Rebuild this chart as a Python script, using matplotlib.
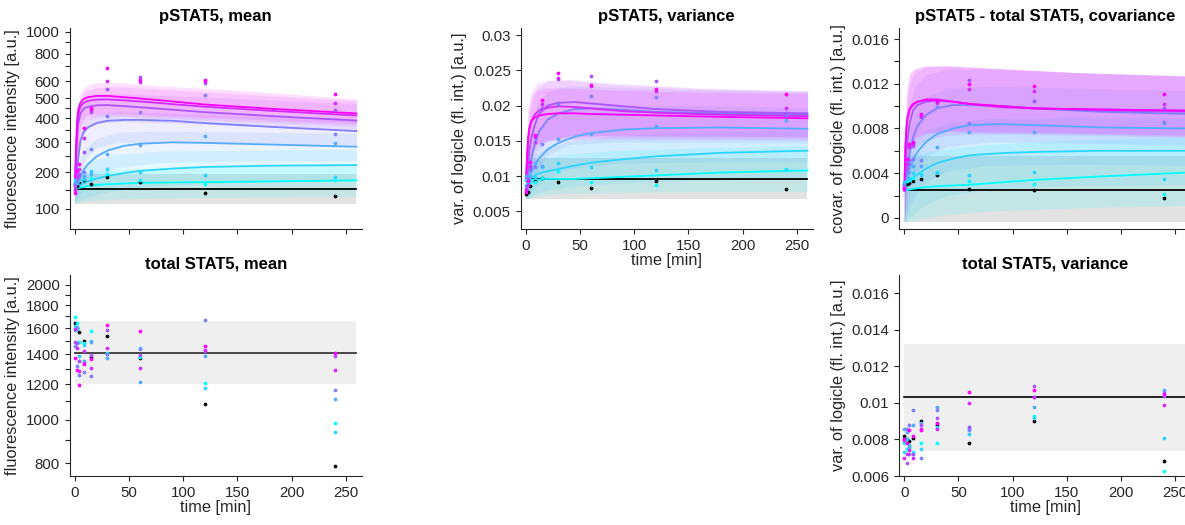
import numpy as np
import matplotlib
matplotlib.use("Agg")
import matplotlib.pyplot as plt
from matplotlib.ticker import NullLocator

plt.rcParams['font.family'] = ['Liberation Sans', 'DejaVu Sans']
INK = '#262626'

# ---------------------------------------------------------------- time grids
obs_times = [0, 2, 4, 8, 15, 30, 60, 120, 240]
fit_times = [0, 1, 2, 3, 5, 8, 12, 20, 30, 45, 60, 90, 120, 180, 260]
band_times = [0, 2, 5, 10, 20, 40, 80, 160, 260]

# ------------------------------------------- pSTAT5 mean (rows: dose 0 .. 7)
pstat_mean_obs = [
    [165, 160, 170, 176, 166, 185, 170, 140, 134],
    [178, 172, 178, 180, 184, 195, 176, 166, 177],
    [172, 168, 176, 184, 203, 210, 200, 191, 185],
    [168, 170, 182, 190, 195, 257, 290, 325, 298],
    [164, 178, 188, 200, 277, 410, 430, 515, 334],
    [160, 182, 195, 266, 428, 550, 625, 590, 437],
    [150, 190, 210, 318, 437, 600, 592, 600, 475],
    [140, 205, 224, 355, 450, 690, 608, 610, 525],
]
pstat_mean_fit = [
    [151, 151, 151, 151, 151, 151, 151, 151, 151, 151, 151, 151, 151, 151, 151],
    [151, 152, 153, 154, 156, 158, 160, 163, 165, 167, 169, 170, 171, 173, 176],
    [151, 153, 156, 159, 163, 168, 173, 181, 189, 197, 204, 211, 216, 220, 222],
    [151, 158, 166, 174, 188, 207, 225, 250, 270, 287, 295, 300, 298, 292, 284],
    [151, 185, 215, 245, 305, 340, 360, 378, 388, 392, 392, 388, 378, 362, 344],
    [151, 240, 320, 375, 420, 445, 455, 462, 463, 458, 452, 440, 428, 410, 389],
    [151, 260, 360, 415, 455, 475, 485, 492, 493, 488, 482, 468, 455, 435, 412],
    [151, 290, 390, 440, 475, 495, 505, 512, 512, 505, 498, 482, 466, 445, 422],
]
pstat_mean_lo = [
    [112, 112, 112, 112, 112, 112, 112, 112, 112],
    [115, 116, 118, 120, 122, 125, 128, 130, 132],
    [115, 118, 122, 128, 138, 150, 162, 170, 175],
    [115, 125, 140, 160, 185, 215, 230, 235, 235],
    [115, 145, 200, 245, 280, 300, 300, 295, 290],
    [115, 190, 300, 350, 375, 385, 380, 365, 345],
    [115, 220, 350, 390, 405, 410, 400, 385, 365],
    [115, 240, 370, 410, 420, 420, 410, 395, 375],
]
pstat_mean_hi = [
    [195, 195, 195, 195, 195, 195, 195, 195, 195],
    [190, 192, 195, 198, 203, 208, 213, 218, 222],
    [190, 195, 205, 220, 240, 258, 268, 272, 275],
    [190, 215, 245, 280, 315, 340, 345, 340, 335],
    [190, 260, 340, 390, 420, 430, 425, 410, 400],
    [190, 330, 450, 500, 520, 525, 515, 495, 470],
    [190, 380, 500, 540, 560, 565, 550, 520, 485],
    [190, 400, 530, 570, 590, 590, 570, 540, 495],
]

# --------------------------------------------------------- pSTAT5 variance
pstat_var_obs = [
    [0.0074, 0.0078, 0.0086, 0.0093, 0.0097, 0.0091, 0.0083, 0.0093, 0.0082],
    [0.0088, 0.0090, 0.0092, 0.0091, 0.0097, 0.0107, 0.0092, 0.0087, 0.0110],
    [0.0095, 0.0093, 0.0095, 0.0099, 0.0113, 0.0119, 0.0113, 0.0109, 0.0108],
    [0.0100, 0.0095, 0.0100, 0.0119, 0.0115, 0.0153, 0.0159, 0.0171, 0.0180],
    [0.0086, 0.0098, 0.0108, 0.0113, 0.0145, 0.0202, 0.0214, 0.0212, 0.0186],
    [0.0080, 0.0095, 0.0112, 0.0149, 0.0196, 0.0237, 0.0242, 0.0235, 0.0190],
    [0.0082, 0.0088, 0.0115, 0.0155, 0.0202, 0.0239, 0.0228, 0.0220, 0.0197],
    [0.0078, 0.0093, 0.0120, 0.0158, 0.0208, 0.0246, 0.0229, 0.0223, 0.0216],
]
pstat_var_fit = [
    [0.0096, 0.0096, 0.0096, 0.0096, 0.0096, 0.0096, 0.0096, 0.0096, 0.0096, 0.0096, 0.0096, 0.0096, 0.0096, 0.0096, 0.0096],
    [0.0093, 0.0093, 0.0094, 0.0094, 0.0095, 0.0095, 0.0095, 0.0096, 0.0096, 0.0096, 0.0097, 0.0099, 0.0101, 0.0105, 0.0108],
    [0.0093, 0.0094, 0.0095, 0.0096, 0.0098, 0.0101, 0.0104, 0.0107, 0.0110, 0.0115, 0.0119, 0.0124, 0.0128, 0.0133, 0.0136],
    [0.0093, 0.0095, 0.0098, 0.0101, 0.0106, 0.0115, 0.0125, 0.0138, 0.0147, 0.0156, 0.0161, 0.0166, 0.0168, 0.0169, 0.0167],
    [0.0093, 0.0098, 0.0105, 0.0112, 0.0125, 0.0145, 0.0163, 0.0180, 0.0189, 0.0195, 0.0196, 0.0194, 0.0191, 0.0189, 0.0187],
    [0.0093, 0.0105, 0.0120, 0.0135, 0.0155, 0.0172, 0.0188, 0.0200, 0.0204, 0.0205, 0.0203, 0.0199, 0.0195, 0.0191, 0.0189],
    [0.0093, 0.0125, 0.0150, 0.0165, 0.0178, 0.0187, 0.0193, 0.0197, 0.0199, 0.0198, 0.0196, 0.0192, 0.0190, 0.0187, 0.0185],
    [0.0093, 0.0130, 0.0155, 0.0168, 0.0178, 0.0183, 0.0186, 0.0188, 0.0189, 0.0189, 0.0188, 0.0187, 0.0186, 0.0184, 0.0182],
]
pstat_var_lo = [
    [0.0067, 0.0067, 0.0067, 0.0067, 0.0067, 0.0067, 0.0067, 0.0067, 0.0067],
    [0.0068, 0.0068, 0.0070, 0.0072, 0.0074, 0.0076, 0.0077, 0.0078, 0.0078],
    [0.0068, 0.0069, 0.0072, 0.0076, 0.0080, 0.0085, 0.0090, 0.0094, 0.0096],
    [0.0068, 0.0070, 0.0076, 0.0085, 0.0098, 0.0110, 0.0118, 0.0120, 0.0120],
    [0.0068, 0.0073, 0.0085, 0.0105, 0.0130, 0.0145, 0.0148, 0.0148, 0.0147],
    [0.0068, 0.0080, 0.0110, 0.0135, 0.0150, 0.0157, 0.0158, 0.0157, 0.0156],
    [0.0068, 0.0100, 0.0130, 0.0145, 0.0152, 0.0156, 0.0157, 0.0156, 0.0155],
    [0.0068, 0.0105, 0.0135, 0.0145, 0.0150, 0.0152, 0.0153, 0.0152, 0.0151],
]
pstat_var_hi = [
    [0.0125, 0.0125, 0.0125, 0.0125, 0.0125, 0.0125, 0.0125, 0.0125, 0.0125],
    [0.0120, 0.0121, 0.0122, 0.0124, 0.0127, 0.0131, 0.0136, 0.0140, 0.0143],
    [0.0120, 0.0122, 0.0126, 0.0132, 0.0140, 0.0149, 0.0157, 0.0163, 0.0165],
    [0.0120, 0.0125, 0.0140, 0.0160, 0.0180, 0.0195, 0.0200, 0.0200, 0.0197],
    [0.0120, 0.0135, 0.0170, 0.0200, 0.0220, 0.0228, 0.0226, 0.0222, 0.0220],
    [0.0120, 0.0160, 0.0200, 0.0225, 0.0235, 0.0237, 0.0232, 0.0225, 0.0221],
    [0.0120, 0.0190, 0.0220, 0.0232, 0.0236, 0.0236, 0.0230, 0.0224, 0.0220],
    [0.0120, 0.0195, 0.0215, 0.0222, 0.0225, 0.0225, 0.0222, 0.0219, 0.0217],
]

# ------------------------------------- pSTAT5 - total STAT5 covariance
cov_obs = [
    [0.0029, 0.0030, 0.0031, 0.0033, 0.0035, 0.0038, 0.0026, 0.0025, 0.0018],
    [0.0031, 0.0033, 0.0034, 0.0036, 0.0039, 0.0041, 0.0033, 0.0030, 0.0021],
    [0.0032, 0.0034, 0.0036, 0.0040, 0.0038, 0.0040, 0.0038, 0.0041, 0.0035],
    [0.0030, 0.0037, 0.0041, 0.0046, 0.0046, 0.0063, 0.0077, 0.0077, 0.0085],
    [0.0029, 0.0041, 0.0048, 0.0053, 0.0052, 0.0099, 0.0085, 0.0105, 0.0086],
    [0.0028, 0.0045, 0.0052, 0.0064, 0.0090, 0.0103, 0.0123, 0.0105, 0.0098],
    [0.0027, 0.0048, 0.0063, 0.0066, 0.0091, 0.0104, 0.0115, 0.0114, 0.0102],
    [0.0026, 0.0053, 0.0066, 0.0068, 0.0093, 0.0105, 0.0120, 0.0118, 0.0111],
]
cov_fit = [
    [0.00245, 0.00245, 0.00245, 0.00245, 0.00245, 0.00245, 0.00245, 0.00245, 0.00245, 0.00245, 0.00245, 0.00245, 0.00245, 0.00245, 0.00245],
    [0.00245, 0.00246, 0.00248, 0.00250, 0.00254, 0.00260, 0.00266, 0.00275, 0.00283, 0.00290, 0.00296, 0.00318, 0.00340, 0.00370, 0.00405],
    [0.00245, 0.0026, 0.0028, 0.0030, 0.0033, 0.0036, 0.0039, 0.0044, 0.0049, 0.0053, 0.0056, 0.0058, 0.0059, 0.0060, 0.0060],
    [0.00245, 0.0029, 0.0033, 0.0037, 0.0044, 0.0052, 0.0059, 0.0068, 0.0075, 0.0080, 0.0083, 0.0084, 0.0083, 0.0081, 0.0080],
    [0.00245, 0.0033, 0.0040, 0.0047, 0.0058, 0.0072, 0.0082, 0.0092, 0.0098, 0.0101, 0.0101, 0.0100, 0.0098, 0.0095, 0.0093],
    [0.00245, 0.0045, 0.0060, 0.0071, 0.0085, 0.0096, 0.0101, 0.0104, 0.0105, 0.0104, 0.0102, 0.0100, 0.0098, 0.0096, 0.0095],
    [0.00245, 0.0062, 0.0080, 0.0089, 0.0097, 0.0101, 0.0104, 0.0105, 0.0105, 0.0104, 0.0102, 0.0099, 0.0098, 0.0097, 0.0096],
    [0.00245, 0.0065, 0.0083, 0.0091, 0.0098, 0.0102, 0.0104, 0.0106, 0.0106, 0.0104, 0.0102, 0.0100, 0.0098, 0.0097, 0.0096],
]
cov_lo = [
    [-0.0004, -0.0004, -0.0004, -0.0004, -0.0004, -0.0004, -0.0004, -0.0004, -0.0004],
    [-0.0004, -0.0004, -0.0003, -0.0002, 0.0000, 0.0003, 0.0006, 0.0009, 0.0011],
    [-0.0004, -0.0003, 0.0000, 0.0005, 0.0012, 0.0020, 0.0026, 0.0029, 0.0030],
    [-0.0004, 0.0000, 0.0010, 0.0020, 0.0032, 0.0042, 0.0047, 0.0048, 0.0047],
    [-0.0004, 0.0005, 0.0020, 0.0040, 0.0055, 0.0064, 0.0068, 0.0067, 0.0065],
    [-0.0004, 0.0015, 0.0045, 0.0062, 0.0070, 0.0074, 0.0075, 0.0074, 0.0072],
    [-0.0004, 0.0030, 0.0060, 0.0070, 0.0075, 0.0077, 0.0076, 0.0075, 0.0073],
    [-0.0004, 0.0032, 0.0062, 0.0072, 0.0076, 0.0078, 0.0077, 0.0076, 0.0074],
]
cov_hi = [
    [0.0055, 0.0055, 0.0055, 0.0055, 0.0055, 0.0055, 0.0055, 0.0055, 0.0055],
    [0.0055, 0.0055, 0.0056, 0.0057, 0.0059, 0.0062, 0.0066, 0.0070, 0.0072],
    [0.0055, 0.0058, 0.0063, 0.0070, 0.0078, 0.0085, 0.0089, 0.0090, 0.0090],
    [0.0055, 0.0065, 0.0080, 0.0095, 0.0108, 0.0116, 0.0118, 0.0116, 0.0114],
    [0.0055, 0.0075, 0.0100, 0.0118, 0.0128, 0.0133, 0.0133, 0.0130, 0.0127],
    [0.0055, 0.0095, 0.0120, 0.0130, 0.0135, 0.0136, 0.0134, 0.0130, 0.0127],
    [0.0055, 0.0110, 0.0128, 0.0133, 0.0136, 0.0136, 0.0134, 0.0130, 0.0127],
    [0.0055, 0.0112, 0.0130, 0.0134, 0.0136, 0.0136, 0.0134, 0.0130, 0.0127],
]

# ---------------------------------------------------- total STAT5, mean
stat_mean_obs = [
    [1640, 1600, 1565, 1495, 1380, 1540, 1370, 1085, 790],
    [1690, 1640, 1490, 1480, 1575, 1405, 1380, 1205, 985],
    [1620, 1590, 1385, 1470, 1500, 1400, 1445, 1180, 940],
    [1585, 1610, 1350, 1355, 1490, 1370, 1215, 1390, 1110],
    [1460, 1320, 1260, 1280, 1250, 1400, 1440, 1665, 1165],
    [1490, 1480, 1350, 1340, 1395, 1585, 1395, 1420, 1385],
    [1595, 1445, 1285, 1420, 1305, 1445, 1305, 1430, 1290],
    [1375, 1290, 1195, 1330, 1365, 1625, 1580, 1460, 1410],
]
stat_mean_level = 1410
stat_mean_range = (1200, 1660)

# ------------------------------------------------ total STAT5, variance
stat_var_obs = [
    [0.0082, 0.0080, 0.0079, 0.0081, 0.0090, 0.0088, 0.0078, 0.0090, 0.0068],
    [0.0078, 0.0075, 0.0076, 0.0073, 0.0078, 0.0078, 0.0087, 0.0093, 0.0063],
    [0.0073, 0.0080, 0.0077, 0.0072, 0.0075, 0.0087, 0.0083, 0.0092, 0.0081],
    [0.0086, 0.0084, 0.0076, 0.0088, 0.0089, 0.0098, 0.0085, 0.0098, 0.0107],
    [0.0079, 0.0086, 0.0088, 0.0096, 0.0070, 0.0096, 0.0086, 0.0103, 0.0106],
    [0.0080, 0.0067, 0.0072, 0.0072, 0.0088, 0.0092, 0.0087, 0.0109, 0.0104],
    [0.0070, 0.0072, 0.0074, 0.0070, 0.0086, 0.0086, 0.0100, 0.0103, 0.0099],
    [0.0080, 0.0078, 0.0085, 0.0082, 0.0085, 0.0089, 0.0106, 0.0107, 0.0105],
]
stat_var_level = 0.01033
stat_var_range = (0.00737, 0.01323)

# ------------------------------------------------------------ colours
n_doses = 8
dose_colors = ['black'] + [plt.cm.cool(i / 6) for i in range(7)]
band_gray = '#e2e2e2'
band_gray_light = '#efefef'

x_ticks = [0, 50, 100, 150, 200, 250]
x_lim = (-5, 265)
t_end = 260

TICK_FS = 10.8
LABEL_FS = 11.8
TITLE_FS = 12

fig = plt.figure(figsize=(11.85, 5.25), dpi=100)

W, H = 0.2467, 0.3829
cols = [0.0587, 0.4393, 0.7586]
rows = [0.5638, 0.0933]


def style(ax, xlabels=True):
    for s in ('top', 'right'):
        ax.spines[s].set_visible(False)
    for s in ('left', 'bottom'):
        ax.spines[s].set_color(INK)
        ax.spines[s].set_linewidth(0.8)
    ax.tick_params(direction='out', length=3.5, width=0.8, colors=INK,
                   labelsize=TICK_FS, labelcolor=INK)
    ax.set_xlim(*x_lim)
    ax.set_xticks(x_ticks)
    if xlabels:
        ax.set_xlabel('time [min]', fontsize=LABEL_FS, color=INK, labelpad=0)
    else:
        ax.tick_params(labelbottom=False)


def model_panel(ax, obs, fit, lo, hi):
    for k in range(n_doses):
        if k == 0:
            ax.fill_between(band_times, lo[k], hi[k], color=band_gray, lw=0, zorder=1)
        else:
            ax.fill_between(band_times, lo[k], hi[k], color=dose_colors[k],
                            alpha=0.13, lw=0, zorder=2)
    for k in range(n_doses):
        ax.plot(fit_times, fit[k], color=dose_colors[k], lw=1.3, zorder=3 + k * 0.01)
    for k in range(n_doses):
        ax.plot(obs_times, obs[k], 'o', ms=2.7, color=dose_colors[k], mec='none', zorder=5)


def set_title(ax, text):
    ax.set_title(text, fontsize=TITLE_FS, fontweight='bold', color='black', pad=5)


# pSTAT5, mean  (arcsinh-compressed intensity axis)
ax1 = fig.add_axes([cols[0], rows[0], W, H])
ax1.set_yscale('function', functions=(lambda v: np.arcsinh(np.asarray(v) / 230.0),
                                      lambda u: 230.0 * np.sinh(np.asarray(u))))
model_panel(ax1, pstat_mean_obs, pstat_mean_fit, pstat_mean_lo, pstat_mean_hi)
style(ax1, xlabels=False)
ax1.set_ylim(52, 1038)
mean_ticks = [100, 150, 200, 250, 300, 350, 400, 450, 500, 600, 700, 800, 900, 1000]
mean_labels = [str(v) if v in (100, 200, 300, 400, 500, 600, 800, 1000) else '' for v in mean_ticks]
ax1.set_yticks(mean_ticks, mean_labels)
ax1.yaxis.set_minor_locator(NullLocator())
ax1.set_ylabel('fluorescence intensity [a.u.]', fontsize=LABEL_FS, color=INK)
set_title(ax1, 'pSTAT5, mean')

# pSTAT5, variance
ax2 = fig.add_axes([cols[1], rows[0], W, H])
model_panel(ax2, pstat_var_obs, pstat_var_fit, pstat_var_lo, pstat_var_hi)
style(ax2, xlabels=True)
ax2.set_ylim(0.0025, 0.031)
ax2.set_yticks([0.005, 0.01, 0.015, 0.02, 0.025, 0.03],
               ['0.005', '0.01', '0.015', '0.02', '0.025', '0.03'])
ax2.set_ylabel('var. of logicle (fl. int.) [a.u.]', fontsize=LABEL_FS, color=INK)
set_title(ax2, 'pSTAT5, variance')

# pSTAT5 - total STAT5, covariance
ax3 = fig.add_axes([cols[2], rows[0], W, H])
model_panel(ax3, cov_obs, cov_fit, cov_lo, cov_hi)
style(ax3, xlabels=False)
ax3.set_ylim(-0.001, 0.017)
cov_ticks = [0, 0.002, 0.004, 0.006, 0.008, 0.01, 0.012, 0.014, 0.016]
ax3.set_yticks(cov_ticks, ['0', '', '0.004', '', '0.008', '', '0.012', '', '0.016'])
ax3.set_ylabel('covar. of logicle (fl. int.) [a.u.]', fontsize=LABEL_FS, color=INK)
set_title(ax3, 'pSTAT5 - total STAT5, covariance')

# total STAT5, mean
ax4 = fig.add_axes([cols[0], rows[1], W, H])
ax4.set_yscale('log')
ax4.fill_between([0, t_end], stat_mean_range[0], stat_mean_range[1],
                 color=band_gray_light, lw=0, zorder=1)
ax4.plot([0, t_end], [stat_mean_level, stat_mean_level], color='#3a3a3a', lw=1.3, zorder=3)
for k in range(n_doses):
    ax4.plot(obs_times, stat_mean_obs[k], 'o', ms=2.7, color=dose_colors[k], mec='none', zorder=5)
style(ax4, xlabels=True)
ax4.set_ylim(750, 2100)
tm_ticks = list(range(800, 2001, 100))
ax4.set_yticks(tm_ticks, [str(v) if v % 200 == 0 else '' for v in tm_ticks])
ax4.yaxis.set_minor_locator(NullLocator())
ax4.set_ylabel('fluorescence intensity [a.u.]', fontsize=LABEL_FS, color=INK)
set_title(ax4, 'total STAT5, mean')

# total STAT5, variance
ax5 = fig.add_axes([cols[2], rows[1], W, H])
ax5.fill_between([0, t_end], stat_var_range[0], stat_var_range[1],
                 color=band_gray_light, lw=0, zorder=1)
ax5.plot([0, t_end], [stat_var_level, stat_var_level], color='black', lw=1.2, zorder=3)
for k in range(n_doses):
    ax5.plot(obs_times, stat_var_obs[k], 'o', ms=2.7, color=dose_colors[k], mec='none', zorder=5)
style(ax5, xlabels=True)
ax5.set_ylim(0.006, 0.017)
ax5.set_yticks([0.006, 0.008, 0.01, 0.012, 0.014, 0.016],
               ['0.006', '0.008', '0.01', '0.012', '0.014', '0.016'])
ax5.set_ylabel('var. of logicle (fl. int.) [a.u.]', fontsize=LABEL_FS, color=INK)
set_title(ax5, 'total STAT5, variance')

fig.savefig('out.png', dpi=100)
